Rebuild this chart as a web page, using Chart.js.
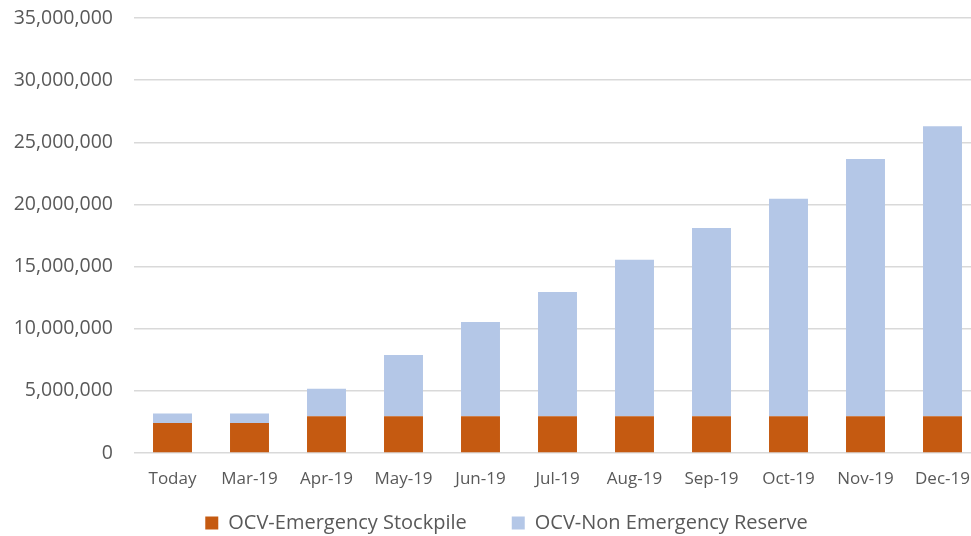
<!DOCTYPE html>
<html>
<head>
<meta charset="utf-8">
<script src="https://cdn.jsdelivr.net/npm/chart.js@4/dist/chart.umd.min.js"></script>
<style>
  html, body { margin: 0; padding: 0; background: #fff; overflow: hidden; }
  #wrap { width: 981px; height: 536px; }
</style>
</head>
<body>
<div id="wrap"><canvas id="c" width="981" height="536"></canvas></div>
<script>
const categories = ["Today", "Mar-19", "Apr-19", "May-19", "Jun-19", "Jul-19", "Aug-19", "Sep-19", "Oct-19", "Nov-19", "Dec-19"];
const emergencyStockpile = [2420000, 2420000, 2960000, 2960000, 2960000, 2960000, 2960000, 2960000, 2960000, 2960000, 2960000];
const totals = [3180000, 3180000, 5160000, 7880000, 10540000, 12960000, 15540000, 18100000, 20460000, 23660000, 26300000];
const nonEmergencyReserve = totals.map((t, i) => t - emergencyStockpile[i]);
const seriesNames = ["OCV-Emergency Stockpile", "OCV-Non Emergency Reserve"];
const yTicks = { min: 0, max: 35000000, step: 5000000 };

const FONT = "'Open Sans', 'Liberation Sans', sans-serif";
const TXT = "#595959";
const CANVAS_H = 536;
const PLOT_BOTTOM = 453;
const PAD_BOTTOM = -40;
const LEGEND_CENTER_Y = 523;
const LEGEND_DX = 16;

const legendShift = {
  id: 'legendShift',
  afterLayout(chart) {
    const L = chart.legend;
    if (!L) return;
    const pad = L.options.labels.padding;
    const fs = L.options.labels.font.size;
    const newTop = LEGEND_CENTER_Y - pad - fs / 2;
    const dy = newTop - L.top;
    L.top += dy; L.bottom += dy;
    L.left += LEGEND_DX; L.right += LEGEND_DX;
  }
};

new Chart(document.getElementById('c'), {
  type: 'bar',
  data: {
    labels: categories,
    datasets: [
      { label: seriesNames[0], data: emergencyStockpile, backgroundColor: '#C55A11', borderWidth: 0 },
      { label: seriesNames[1], data: nonEmergencyReserve, backgroundColor: '#B4C7E7', borderWidth: 0 }
    ]
  },
  plugins: [legendShift],
  options: {
    responsive: false,
    animation: false,
    devicePixelRatio: 1,
    layout: { padding: { left: 0, right: 0, top: 18, bottom: PAD_BOTTOM } },
    datasets: { bar: { categoryPercentage: 1.0, barPercentage: 0.506 } },
    scales: {
      x: {
        stacked: true,
        afterFit: (s) => {
          const lh = s.chart.legend ? s.chart.legend.height : 0;
          s.height = Math.max(45, CANVAS_H - PAD_BOTTOM - lh - PLOT_BOTTOM);
        },
        grid: { display: true, drawOnChartArea: false, drawTicks: true, tickLength: 14, tickColor: 'rgba(0,0,0,0)' },
        border: { display: false },
        ticks: { color: TXT, font: { family: FONT, size: 17 }, padding: 2, maxRotation: 0, autoSkip: false }
      },
      y: {
        stacked: true,
        min: yTicks.min, max: yTicks.max,
        afterFit: (s) => { s.width = 134; },
        grid: { color: '#D9D9D9', lineWidth: 1.5, drawTicks: true, tickLength: 18, tickColor: 'rgba(0,0,0,0)' },
        border: { display: false },
        ticks: {
          stepSize: yTicks.step, color: TXT, padding: 3,
          font: { family: FONT, size: 19.5 },
          callback: (v) => Number(v).toLocaleString('en-US')
        }
      }
    },
    plugins: {
      tooltip: { enabled: false },
      legend: {
        position: 'bottom',
        labels: {
          color: TXT, boxWidth: 13, boxHeight: 13, padding: 45,
          font: { family: FONT, size: 20 }
        }
      }
    }
  }
});
</script>
</body>
</html>
